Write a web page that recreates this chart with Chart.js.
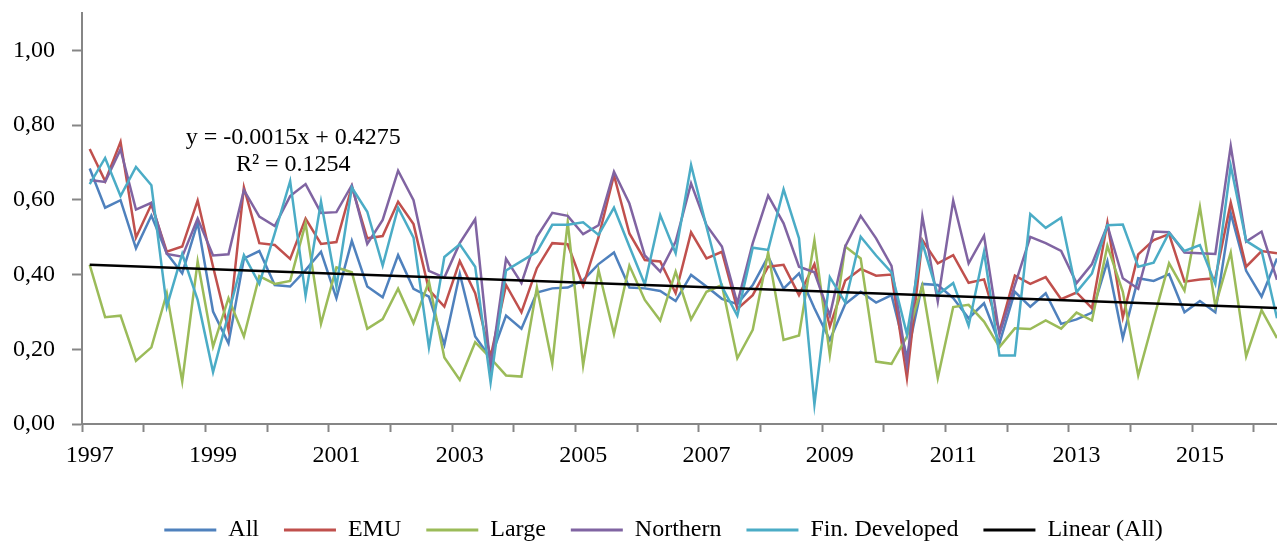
<!DOCTYPE html>
<html>
<head>
<meta charset="utf-8">
<script src="https://cdn.jsdelivr.net/npm/chart.js@4.4.1/dist/chart.umd.min.js"></script>
<style>
  html, body { margin: 0; padding: 0; background: #ffffff; overflow: hidden; }
  canvas { display: block; }
</style>
</head>
<body>
<canvas id="chart" width="1277" height="543"></canvas>
<script>
// Quarterly observations, 1997Q1 - 2016Q2
const startYear = 1997;
const quarterCount = 78;
const quarters = Array.from({ length: quarterCount }, (_, i) => `${startYear + Math.floor(i / 4)}Q${(i % 4) + 1}`);

// Axis labels
const yearLabels = ['1997', '1999', '2001', '2003', '2005', '2007', '2009', '2011', '2013', '2015'];
const yTickValues = [0, 0.2, 0.4, 0.6, 0.8, 1.0];

// Series values
const allValues = [
  0.684, 0.579, 0.599, 0.470, 0.558, 0.457, 0.403, 0.539, 0.301, 0.216, 0.443,
  0.463, 0.372, 0.368, 0.412, 0.461, 0.337, 0.490, 0.368, 0.339, 0.452, 0.362,
  0.341, 0.212, 0.402, 0.234, 0.176, 0.290, 0.255, 0.352, 0.363, 0.365, 0.385,
  0.428, 0.459, 0.365, 0.363, 0.356, 0.329, 0.399, 0.368, 0.335, 0.321, 0.372,
  0.448, 0.362, 0.403, 0.310, 0.225, 0.321, 0.354, 0.325, 0.345, 0.180, 0.375,
  0.372, 0.337, 0.283, 0.323, 0.216, 0.354, 0.314, 0.350, 0.268, 0.280, 0.298,
  0.435, 0.230, 0.390, 0.383, 0.401, 0.299, 0.329, 0.299, 0.564, 0.410, 0.341, 0.443
];
const emuValues = [
  0.736, 0.650, 0.755, 0.499, 0.588, 0.461, 0.475, 0.598, 0.421, 0.252, 0.633,
  0.484, 0.479, 0.442, 0.550, 0.482, 0.487, 0.635, 0.497, 0.503, 0.595, 0.535,
  0.359, 0.314, 0.436, 0.350, 0.180, 0.372, 0.299, 0.417, 0.484, 0.481, 0.370,
  0.500, 0.666, 0.510, 0.439, 0.435, 0.350, 0.513, 0.443, 0.461, 0.308, 0.345,
  0.421, 0.426, 0.345, 0.428, 0.261, 0.384, 0.415, 0.397, 0.400, 0.123, 0.492,
  0.430, 0.452, 0.378, 0.387, 0.248, 0.397, 0.375, 0.393, 0.334, 0.352, 0.310,
  0.539, 0.285, 0.454, 0.492, 0.508, 0.381, 0.387, 0.390, 0.593, 0.421, 0.463, 0.457
];
const largeValues = [
  0.426, 0.286, 0.290, 0.169, 0.205, 0.350, 0.114, 0.435, 0.207, 0.337, 0.234,
  0.396, 0.375, 0.383, 0.537, 0.268, 0.419, 0.406, 0.255, 0.281, 0.362, 0.270,
  0.381, 0.178, 0.118, 0.219, 0.176, 0.130, 0.127, 0.365, 0.161, 0.540, 0.157,
  0.412, 0.241, 0.424, 0.332, 0.277, 0.408, 0.280, 0.354, 0.372, 0.176, 0.252,
  0.459, 0.225, 0.237, 0.492, 0.185, 0.475, 0.443, 0.167, 0.161, 0.234, 0.370,
  0.123, 0.313, 0.319, 0.274, 0.206, 0.256, 0.254, 0.277, 0.255, 0.298, 0.277,
  0.477, 0.354, 0.130, 0.281, 0.430, 0.357, 0.581, 0.316, 0.459, 0.181, 0.305, 0.230
];
const northernValues = [
  0.653, 0.648, 0.735, 0.574, 0.592, 0.455, 0.448, 0.550, 0.451, 0.454, 0.626,
  0.555, 0.530, 0.610, 0.642, 0.565, 0.567, 0.639, 0.482, 0.546, 0.678, 0.599,
  0.410, 0.392, 0.484, 0.548, 0.150, 0.442, 0.377, 0.501, 0.565, 0.557, 0.508,
  0.532, 0.675, 0.590, 0.451, 0.408, 0.488, 0.644, 0.532, 0.475, 0.323, 0.484,
  0.611, 0.537, 0.421, 0.406, 0.290, 0.475, 0.557, 0.497, 0.423, 0.159, 0.555,
  0.328, 0.598, 0.430, 0.504, 0.240, 0.372, 0.501, 0.484, 0.463, 0.377, 0.428,
  0.532, 0.390, 0.362, 0.515, 0.513, 0.459, 0.457, 0.455, 0.744, 0.488, 0.515, 0.386
];
const finDevValues = [
  0.642, 0.712, 0.610, 0.688, 0.639, 0.314, 0.455, 0.332, 0.139, 0.295, 0.452,
  0.375, 0.510, 0.650, 0.343, 0.595, 0.368, 0.633, 0.568, 0.424, 0.579, 0.499,
  0.205, 0.447, 0.481, 0.421, 0.111, 0.411, 0.436, 0.461, 0.533, 0.533, 0.540,
  0.506, 0.579, 0.475, 0.374, 0.559, 0.457, 0.693, 0.528, 0.368, 0.290, 0.472,
  0.466, 0.628, 0.497, 0.052, 0.393, 0.325, 0.501, 0.451, 0.406, 0.240, 0.485,
  0.346, 0.377, 0.263, 0.461, 0.183, 0.183, 0.562, 0.525, 0.552, 0.353, 0.403,
  0.532, 0.534, 0.421, 0.432, 0.512, 0.463, 0.479, 0.375, 0.691, 0.490, 0.464, 0.283
];

// Linear trend fitted to "All" (x counts quarters from 1)
const trendSlope = -0.0015;
const trendIntercept = 0.4275;
const trendR2 = 0.1254;

const serifFont = "'Liberation Serif', 'Times New Roman', serif";
const axisGray = '#868686';

const toPoints = values => values.map((v, i) => ({ x: i, y: v }));
const trendPoints = [0, quarterCount - 1].map(i => ({ x: i, y: trendIntercept + trendSlope * (i + 1) }));

const series = [
  { label: 'All', values: allValues, color: '#4F81BD' },
  { label: 'EMU', values: emuValues, color: '#C0504D' },
  { label: 'Large', values: largeValues, color: '#9BBB59' },
  { label: 'Northern', values: northernValues, color: '#8064A2' },
  { label: 'Fin. Developed', values: finDevValues, color: '#4BACC6' }
];

const datasets = series.map((s, k) => ({
  label: s.label,
  data: toPoints(s.values),
  borderColor: s.color,
  backgroundColor: s.color,
  borderWidth: 2.5,
  pointRadius: 0,
  tension: 0,
  order: series.length - k
}));
datasets.push({
  label: 'Linear (All)',
  data: trendPoints,
  borderColor: '#000000',
  backgroundColor: '#000000',
  borderWidth: 2.5,
  pointRadius: 0,
  tension: 0,
  order: 0
});

// Trend equation written inside the plot
const trendLabel = {
  id: 'trendLabel',
  afterDatasetsDraw(chart) {
    const { ctx, scales: { x, y } } = chart;
    ctx.save();
    ctx.font = `24px ${serifFont}`;
    ctx.fillStyle = '#000000';
    ctx.textAlign = 'center';
    ctx.textBaseline = 'middle';
    const cx = x.getPixelForValue(13.2);
    ctx.fillText(`y = ${trendSlope}x + ${trendIntercept}`, cx, y.getPixelForValue(0.765));
    ctx.fillText(`R\u00B2 = ${trendR2}`, cx, y.getPixelForValue(0.695));
    ctx.restore();
  }
};

// Legend row sits a little right of the canvas centre
const legendShift = {
  id: 'legendShift',
  afterLayout(chart) {
    if (chart.legend) chart.legend.left += 38;
  }
};

// Year boundaries carry tick marks, year labels sit under each first quarter
const xTicks = [];
for (let b = -0.5; b < quarterCount - 1; b += 4) xTicks.push(b);
yearLabels.forEach((_, k) => xTicks.push(k * 8));
xTicks.sort((a, b) => a - b);

new Chart(document.getElementById('chart'), {
  type: 'line',
  data: { labels: quarters, datasets },
  options: {
    responsive: false,
    devicePixelRatio: 1,
    animation: false,
    events: [],
    layout: { padding: { top: 13, left: 12, right: 0, bottom: 0 } },
    scales: {
      x: {
        type: 'linear',
        min: -0.5,
        max: quarterCount - 1,
        afterBuildTicks: scale => { scale.ticks = xTicks.map(v => ({ value: v })); },
        afterFit: scale => { scale.height = 69; },
        border: { display: true, color: axisGray, width: 2 },
        grid: {
          drawOnChartArea: false,
          drawTicks: true,
          tickLength: 8,
          tickWidth: 2,
          tickColor: ctx => (ctx.tick && !Number.isInteger(ctx.tick.value)) ? axisGray : 'rgba(0,0,0,0)'
        },
        ticks: {
          autoSkip: false,
          maxRotation: 0,
          minRotation: 0,
          padding: 12,
          color: '#000000',
          font: { family: serifFont, size: 24, lineHeight: 1 },
          callback: value => (Number.isInteger(value) && value % 8 === 0) ? yearLabels[value / 8] : ''
        }
      },
      y: {
        min: 0,
        max: 1.1,
        afterBuildTicks: scale => { scale.ticks = yTickValues.map(v => ({ value: v })); },
        afterFit: scale => { scale.width = 70; scale.paddingTop = 0; scale.paddingBottom = 0; },
        border: { display: true, color: axisGray, width: 2 },
        grid: {
          drawOnChartArea: false,
          drawTicks: true,
          tickLength: 10,
          tickWidth: 2,
          tickColor: axisGray
        },
        ticks: {
          padding: 17,
          color: '#000000',
          font: { family: serifFont, size: 24, lineHeight: 1 },
          callback: value => value.toFixed(2).replace('.', ',')
        }
      }
    },
    plugins: {
      tooltip: { enabled: false },
      legend: {
        position: 'bottom',
        maxHeight: 50,
        labels: {
          boxWidth: 52,
          boxHeight: 3,
          padding: 25,
          color: '#000000',
          font: { family: serifFont, size: 24 },
          generateLabels: chart => chart.data.datasets.map((ds, i) => ({
            text: ds.label,
            fillStyle: ds.borderColor,
            strokeStyle: ds.borderColor,
            lineWidth: 0,
            fontColor: '#000000',
            hidden: !chart.isDatasetVisible(i),
            datasetIndex: i
          }))
        }
      }
    }
  },
  plugins: [trendLabel, legendShift]
});
</script>
</body>
</html>
